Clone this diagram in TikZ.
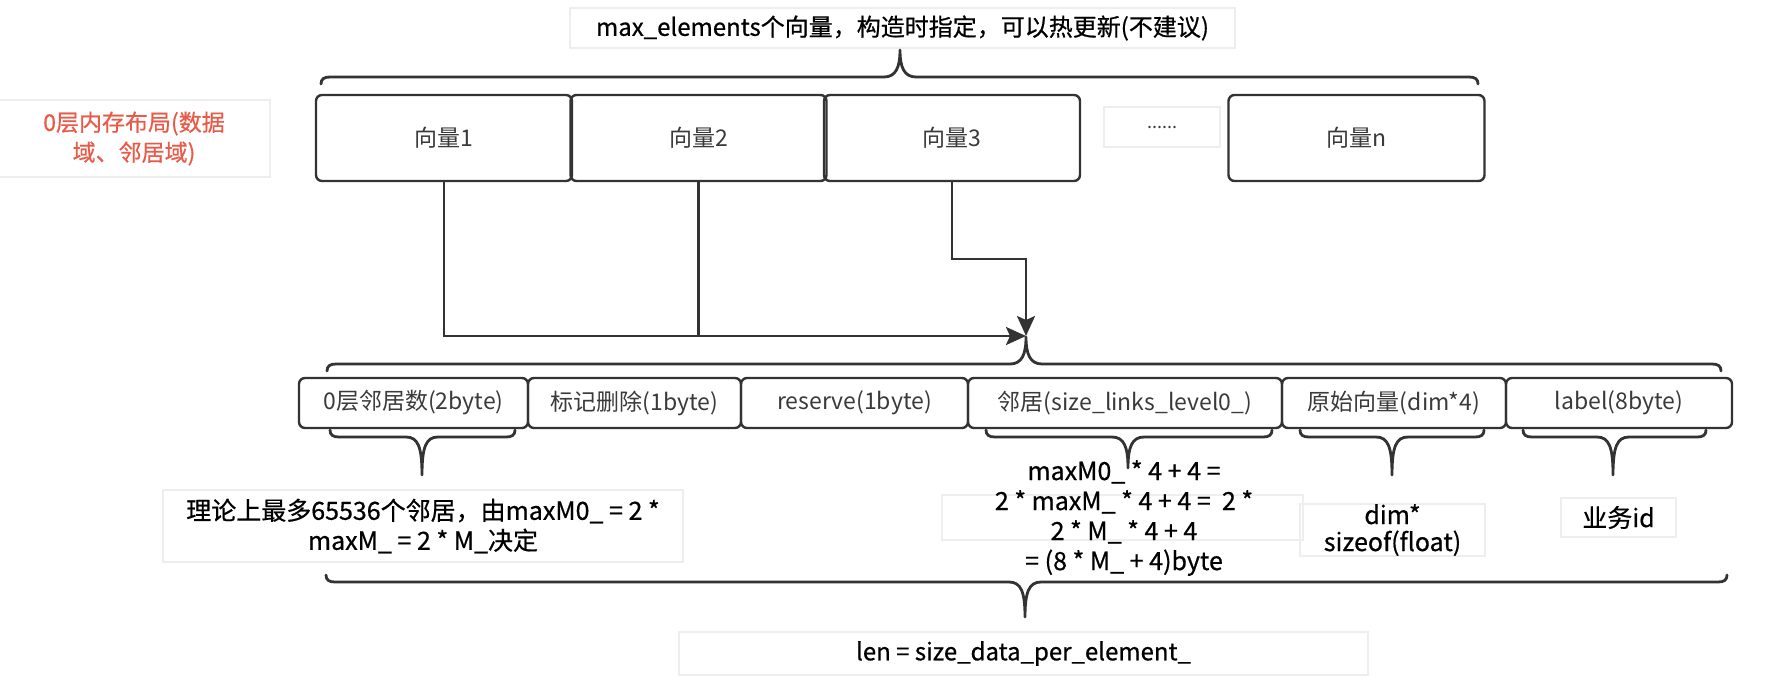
\documentclass[tikz,border=0pt]{standalone}
\usepackage{fontspec}
\usepackage{tikz}
\usepackage{xcolor}
\setmainfont{Noto Sans CJK SC}
\newfontfamily\notefont[FakeBold=0.6]{Noto Sans CJK SC}
\usetikzlibrary{arrows.meta}

\definecolor{linegray}{HTML}{333333}
\definecolor{textgray}{HTML}{3A3A3A}
\definecolor{notegray}{HTML}{EEEEEE}
\definecolor{labelred}{HTML}{EA5A48}

\begin{document}
\begin{tikzpicture}[x=0.5pt, y=-0.5pt, >={Stealth[length=10pt, width=9pt, inset=2pt]},
    vec/.style={draw=linegray, line width=1.2pt, rounded corners=3pt, minimum width=128pt, minimum height=43pt, inner sep=0pt, text=textgray, font=\fontsize{11.5}{13}\selectfont},
    cell/.style={draw=linegray, line width=1.2pt, rounded corners=3pt, minimum height=25pt, inner sep=0pt, text=textgray, font=\fontsize{11.5}{13}\selectfont},
    note/.style={draw=notegray, line width=1pt, inner sep=0pt, align=center, font=\notefont\fontsize{12.5}{15}\selectfont},
    brc/.style={draw=linegray, line width=1.4pt, line cap=round, line join=round},
    conn/.style={draw=linegray, line width=1.2pt}]
        \useasboundingbox (0,0) rectangle (1770,686);
        % title and side label
        \node[note, minimum width=332.5pt, minimum height=20pt, font=\notefont\fontsize{12}{15}\selectfont] at (902.5,28) (title) {max\_elements个向量，构造时指定，可以热更新(不建议)};
        \node[note, text=labelred, minimum width=136pt, minimum height=38.5pt, font=\notefont\fontsize{11.5}{15}\selectfont] at (134,138.5) (layer) {0层内存布局(数据\\域、邻居域)};
        % vectors
        \node[vec] at (444,138) (v1) {向量1};
        \node[vec] at (698.5,138) (v2) {向量2};
        \node[vec] at (952,138) (v3) {向量3};
        \node[note, text=textgray, minimum width=58pt, minimum height=20pt, font=\fontsize{9}{11}\selectfont] at (1162,127) (dots) {......};
        \node[vec] at (1356.5,138) (vn) {向量n};
        % one element
        \node[cell, minimum width=114.5pt] at (413.5,403) (cnt) {0层邻居数(2byte)};
        \node[cell, minimum width=106.5pt] at (634.5,403) (del) {标记删除(1byte)};
        \node[cell, minimum width=113.5pt] at (854.5,403) (res) {reserve(1byte)};
        \node[cell, minimum width=157pt] at (1125,403) (links) {邻居(size\_links\_level0\_)};
        \node[cell, minimum width=112pt] at (1394,403) (raw) {原始向量(dim*4)};
        \node[cell, minimum width=113pt] at (1619,403) (lbl) {label(8byte)};
        % notes under the element
        \node[note, minimum width=260pt, minimum height=36pt] at (423,526) (maxnb) {理论上最多65536个邻居，由maxM0\_ = 2 *\\maxM\_ = 2 * M\_决定};
        \node[note, minimum width=180.5pt, minimum height=22.5pt] at (1122.5,517.5) (fbox) {};
        \node[align=center, inner sep=0pt, font=\notefont\fontsize{12.5}{15}\selectfont] at (1124,518) (ftext) {maxM0\_ * 4 + 4 =\\2 * maxM\_ * 4 + 4 = \ 2 *\\2 * M\_ * 4 + 4\\= (8 * M\_ + 4)byte};
        \node[note, minimum width=92.5pt, minimum height=24pt, font=\notefont\fontsize{12.5}{13.5}\selectfont] at (1392.5,530) (dimsz) {dim*\\sizeof(float)};
        \node[note, minimum width=57.5pt, minimum height=19.5pt] at (1618.5,517.5) (bizid) {业务id};
        \node[note, minimum width=344.5pt, minimum height=21.5pt, font=\notefont\fontsize{12}{15}\selectfont] at (1023.5,653.5) (len) {len = size\_data\_per\_element\_};
        % braces
        \foreach \xa/\xb/\xm/\yb/\s/\d in {321/1478/900/77/-1/27, 327/1721/1026/364/-1/27, 330/515/422/437/1/38,
            986/1272/1128/437/1/31, 1300/1484/1392/437/1/38, 1523/1706/1613/437/1/38, 326/1727/1025/582/1/35}
            \draw[brc] (\xa,{\yb-(\s)*7}) .. controls (\xa,{\yb-(\s)*2}) and ({\xa+3},\yb) .. ({\xa+9},\yb)
                -- ({\xm-16},\yb) .. controls ({\xm-4},\yb) and (\xm,{\yb+(\s)*10}) .. (\xm,{\yb+(\s)*\d})
                .. controls (\xm,{\yb+(\s)*10}) and ({\xm+4},\yb) .. ({\xm+16},\yb)
                -- ({\xb-9},\yb) .. controls ({\xb-3},\yb) and (\xb,{\yb-(\s)*2}) .. (\xb,{\yb-(\s)*7});
        % vectors into the element
        \coordinate (join) at (1026,336);
        \draw[conn, ->] (v1.south) |- (join);
        \draw[conn] (v2.south) -- (v2.south |- join);
        \draw[conn, ->] (v3.south) -- ++(0,77) -| (join);
  \end{tikzpicture}
\end{document}
